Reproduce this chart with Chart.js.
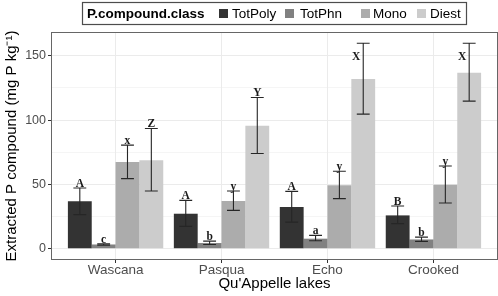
<!DOCTYPE html>
<html>
<head>
<meta charset="utf-8">
<script src="https://cdn.jsdelivr.net/npm/chart.js@4.4.1/dist/chart.umd.min.js"></script>
<style>
  html, body { margin: 0; padding: 0; background: #fff; }
</style>
</head>
<body>
<canvas id="lakeChart" width="498" height="296"></canvas>
<script>
Chart.defaults.font.family = "'Liberation Sans', Arial, sans-serif";
Chart.defaults.color = '#4d4d4d';

// data (mg P kg-1)
var lakes = ['Wascana', 'Pasqua', 'Echo', 'Crooked'];
var classes = ['TotPoly', 'TotPhn', 'Mono', 'Diest'];

var totPoly = [36.8, 27.2, 32.4, 25.9];
var totPolyHigh = [47.2, 37.6, 44.6, 33.2];
var totPolyLow = [26.5, 17.4, 20.7, 19.5];
var totPolyLetters = ['A', 'A', 'A', 'B'];

var totPhn = [3.3, 4.4, 7.8, 7.2];
var totPhnHigh = [3.9, 5.9, 10.4, 9.0];
var totPhnLow = [2.8, 3.3, 6.2, 5.7];
var totPhnLetters = ['c', 'b', 'a', 'b'];

var mono = [67.5, 37.1, 49.3, 49.8];
var monoHigh = [80.5, 44.9, 60.2, 64.3];
var monoLow = [54.5, 29.8, 38.9, 35.5];
var monoLetters = ['x', 'y', 'y', 'y'];

var diest = [68.8, 95.5, 131.9, 136.8];
var diestHigh = [93.5, 117.6, 159.7, 159.7];
var diestLow = [44.9, 74.0, 104.6, 114.7];
var diestLetters = ['Z', 'Y', 'X', 'X'];

var yTicks = [0, 25, 50, 75, 100, 125, 150];

var classColors = ['#333333', '#818181', '#acacac', '#cccccc'];

function makeDataset(i, values, high, low, letters) {
    return {
        label: classes[i],
        data: values.map(function(v, j) { return { x: j + 1, y: v }; }),
        errHigh: high,
        errLow: low,
        letters: letters,
        backgroundColor: classColors[i],
        borderWidth: 0,
        categoryPercentage: 0.9,
        barPercentage: 1.0
    };
}

var errorBarPlugin = {
    id: 'errorBars',
    afterDatasetsDraw: function(chart) {
        var ctx = chart.ctx;
        var yScale = chart.scales.y;
        var area = chart.chartArea;
        ctx.save();
        chart.data.datasets.forEach(function(ds, i) {
            var meta = chart.getDatasetMeta(i);
            meta.data.forEach(function(bar, j) {
                var top = yScale.getPixelForValue(ds.errHigh[j]);
                var bottom = yScale.getPixelForValue(ds.errLow[j]);
                var half = bar.width * 0.27;
                ctx.strokeStyle = '#262626';
                ctx.lineWidth = 1.1;
                ctx.beginPath();
                ctx.moveTo(bar.x, top); ctx.lineTo(bar.x, bottom);
                ctx.moveTo(bar.x - half, top); ctx.lineTo(bar.x + half, top);
                ctx.moveTo(bar.x - half, bottom); ctx.lineTo(bar.x + half, bottom);
                ctx.stroke();

                ctx.fillStyle = '#1a1a1a';
                ctx.font = "bold 11.5px 'Liberation Serif', 'Times New Roman', serif";
                ctx.textAlign = 'center';
                ctx.textBaseline = 'alphabetic';
                if (top - 14 < area.top) {
                    // no room above the cap: tuck the letter beside the whisker
                    ctx.fillText(ds.letters[j], bar.x - 7, top + 17);
                } else {
                    ctx.fillText(ds.letters[j], bar.x, top - 1);
                }
            });
        });
        ctx.restore();
    }
};

var panelBorderPlugin = {
    id: 'panelBorder',
    afterDraw: function(chart) {
        var a = chart.chartArea;
        var ctx = chart.ctx;
        ctx.save();
        ctx.strokeStyle = '#666666';
        ctx.lineWidth = 1;
        ctx.strokeRect(Math.round(a.left) - 0.5, Math.round(a.top) - 0.5,
            Math.round(a.right - a.left) + 1, Math.round(a.bottom - a.top) + 1);
        ctx.restore();
    }
};

var legendPlugin = {
    id: 'topLegend',
    afterDraw: function(chart) {
        var ctx = chart.ctx;
        var keyX = [219, 285, 361, 417];
        var textX = [232, 300, 373, 430];
        ctx.save();
        ctx.fillStyle = '#ffffff';
        ctx.fillRect(82, 2, 384, 22);
        ctx.strokeStyle = '#4d4d4d';
        ctx.lineWidth = 1.2;
        ctx.strokeRect(82.5, 2.5, 384, 22);
        ctx.textBaseline = 'middle';
        ctx.textAlign = 'left';
        ctx.fillStyle = '#000000';
        ctx.font = "bold 13.5px 'Liberation Sans', Arial, sans-serif";
        ctx.fillText('P.compound.class', 87, 14);
        ctx.font = "13.5px 'Liberation Sans', Arial, sans-serif";
        classes.forEach(function(name, i) {
            ctx.fillStyle = classColors[i];
            ctx.fillRect(keyX[i], 9, 9, 9);
            ctx.fillStyle = '#000000';
            ctx.fillText(name, textX[i], 14);
        });
        ctx.restore();
    }
};

var ctx = document.getElementById('lakeChart').getContext('2d');
var lakeChart = new Chart(ctx, {
    type: 'bar',
    data: {
        datasets: [
            makeDataset(0, totPoly, totPolyHigh, totPolyLow, totPolyLetters),
            makeDataset(1, totPhn, totPhnHigh, totPhnLow, totPhnLetters),
            makeDataset(2, mono, monoHigh, monoLow, monoLetters),
            makeDataset(3, diest, diestHigh, diestLow, diestLetters)
        ]
    },
    options: {
        responsive: false,
        animation: false,
        layout: { padding: { top: 33, right: 1, left: 0, bottom: 0 } },
        plugins: {
            legend: { display: false },
            tooltip: { enabled: false }
        },
        scales: {
            x: {
                type: 'linear',
                min: 0.4,
                max: 4.6,
                offset: false,
                afterBuildTicks: function(axis) {
                    axis.ticks = lakes.map(function(_, i) { return { value: i + 1 }; });
                },
                afterFit: function(axis) { axis.height = 37; },
                border: { display: false },
                grid: { offset: false, color: '#ebebeb', lineWidth: 1, tickColor: '#333333', tickLength: 4 },
                ticks: {
                    autoSkip: false,
                    maxRotation: 0,
                    padding: -1,
                    color: '#4d4d4d',
                    font: { size: 13.5 },
                    callback: function(value) { return lakes[value - 1] || ''; }
                },
                title: {
                    display: true,
                    text: "Qu'Appelle lakes",
                    color: '#000000',
                    font: { size: 15 },
                    padding: { top: 0, bottom: 3 }
                }
            },
            y: {
                min: -8,
                max: 167.7,
                afterBuildTicks: function(axis) {
                    axis.ticks = yTicks.map(function(v) { return { value: v }; });
                },
                afterFit: function(axis) { axis.width = 52; },
                border: { display: false },
                grid: {
                    color: '#ebebeb',
                    lineWidth: function(c) { return c.tick && c.tick.value % 50 === 0 ? 1 : 0.5; },
                    tickColor: function(c) { return c.tick && c.tick.value % 50 === 0 ? '#333333' : 'rgba(0,0,0,0)'; },
                    tickLength: 4
                },
                ticks: {
                    padding: 2,
                    color: '#4d4d4d',
                    font: { size: 12.5 },
                    callback: function(value) { return value % 50 === 0 ? value : ''; }
                },
                title: {
                    display: true,
                    text: 'Extracted P compound (mg P kg\u207B\u00B9)',
                    color: '#000000',
                    font: { size: 15 },
                    padding: { top: 3, bottom: 0 }
                }
            }
        }
    },
    plugins: [errorBarPlugin, panelBorderPlugin, legendPlugin]
});
</script>
</body>
</html>
